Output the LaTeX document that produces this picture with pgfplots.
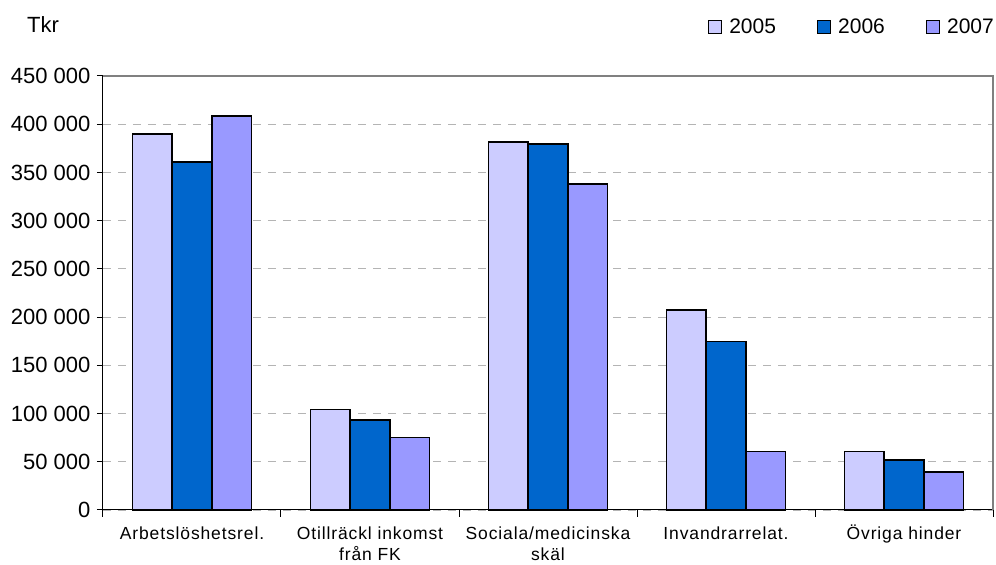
\documentclass[border=0pt]{standalone}
\usepackage{fontspec}
\setmainfont{Liberation Sans}
\newfontfamily\catfont[LetterSpace=5]{Liberation Sans}
\usepackage{pgfplots}
\pgfplotsset{compat=1.18}
\definecolor{c2005}{HTML}{CCCCFF}
\definecolor{c2006}{HTML}{0066CC}
\definecolor{c2007}{HTML}{9999FF}
\definecolor{gridgray}{HTML}{B4B4B4}
\definecolor{framegray}{HTML}{808080}
\newcommand\lh{\rule{0pt}{17pt}}

\begin{document}
\begin{tikzpicture}
\begin{axis}[
  name=ax,
  scale only axis, width=890pt, height=434pt,
  xmin=-0.5, xmax=4.5, ymin=0, ymax=450000,
  clip=false,
  axis x line*=bottom, axis y line*=left,
  axis line style={black, line width=1pt},
  tick align=outside,
  xtick={0,...,4},
  xticklabels={\lh Arbetslöshetsrel., \lh Otillräckl inkomst\\från FK, \lh Sociala/medicinska\\skäl, \lh Invandrarrelat., \lh Övriga hinder},
  xticklabel style={align=center, font=\catfont\fontsize{17.5}{21}\selectfont, yshift=-3pt},
  major x tick style={draw=none},
  minor xtick={-0.5,0.5,1.5,2.5,3.5,4.5},
  minor x tick style={black, line width=1pt},
  minor tick length=7pt,
  ytick={0,50000,100000,150000,200000,250000,300000,350000,400000,450000},
  yticklabels={0,50 000,100 000,150 000,200 000,250 000,300 000,350 000,400 000,450 000},
  major tick length=6pt,
  y tick style={black, line width=1pt},
  yticklabel style={font=\fontsize{22}{26}\selectfont, xshift=-3pt},
  scaled y ticks=false,
  ymajorgrids,
  major grid style={gridgray, dash pattern=on 8pt off 7pt, line width=0.8pt},
  ybar, bar width=0.2225,
  legend columns=3,
  legend style={at={(1,1)}, anchor=east, xshift=6pt, yshift=49pt, draw=none, fill=none,
    font=\fontsize{21}{25}\selectfont,
    /tikz/every odd column/.append style={column sep=5pt},
    /tikz/every even column/.append style={column sep=39pt}},
  legend image code/.code={\draw[#1, line width=1.2pt] (0pt,-6.5pt) rectangle (13pt,6.5pt);},
]
\addplot[fill=c2005, draw=black, line width=1.6pt, bar shift=-0.2225] coordinates {
  (0,390000) (1,104000) (2,381500) (3,207500) (4,60500) };
\addplot[fill=c2006, draw=black, line width=1.6pt, bar shift=0] coordinates {
  (0,361000) (1,93500) (2,379500) (3,174500) (4,52000) };
\addplot[fill=c2007, draw=black, line width=1.6pt, bar shift=0.2225] coordinates {
  (0,408500) (1,75000) (2,338000) (3,60500) (4,39500) };
\legend{2005, 2006, 2007}
\draw[framegray, line width=1.2pt] (rel axis cs:0,1) -- (rel axis cs:1,1) -- (rel axis cs:1,0);
\end{axis}
\node[anchor=west, font=\fontsize{22}{26}\selectfont, inner sep=0pt] at ([xshift=-76pt, yshift=51pt]ax.north west) {Tkr};
\pgfresetboundingbox
\path ([xshift=-103pt, yshift=-55pt]ax.south west) rectangle ([xshift=3pt, yshift=76pt]ax.north east);
\end{tikzpicture}
\end{document}
